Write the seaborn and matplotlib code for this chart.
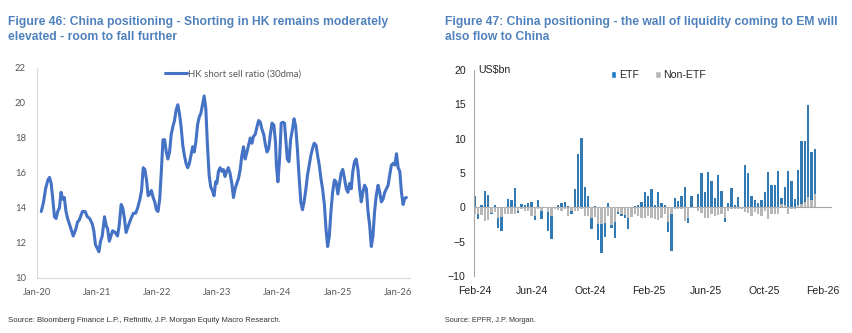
import numpy as np
import pandas as pd
import matplotlib
matplotlib.use("Agg")
import matplotlib.pyplot as plt
import matplotlib.dates as mdates
from matplotlib.patches import Patch
from matplotlib import font_manager
import seaborn as sns

# ---------------- data: Figure 46 ----------------
hk_dates = [
    "2020-01-27", "2020-02-10", "2020-02-22", "2020-03-07", "2020-03-17", "2020-03-27",
    "2020-04-06", "2020-04-16", "2020-04-26", "2020-05-06", "2020-05-16", "2020-05-26",
    "2020-06-05", "2020-06-15", "2020-06-25", "2020-07-05", "2020-07-15", "2020-07-25",
    "2020-08-08", "2020-08-24", "2020-09-03", "2020-09-13", "2020-10-03", "2020-10-19",
    "2020-11-02", "2020-11-16", "2020-12-01", "2020-12-11", "2020-12-21", "2021-01-01",
    "2021-01-11", "2021-01-21", "2021-01-31", "2021-02-14", "2021-02-24", "2021-03-05",
    "2021-03-15", "2021-03-25", "2021-04-04", "2021-04-20", "2021-05-04", "2021-05-14",
    "2021-05-26", "2021-06-05", "2021-06-15", "2021-06-25", "2021-07-09", "2021-07-25",
    "2021-08-08", "2021-08-22", "2021-09-03", "2021-09-17", "2021-09-27", "2021-10-07",
    "2021-10-17", "2021-10-27", "2021-11-06", "2021-11-16", "2021-11-26", "2021-12-06",
    "2021-12-16", "2021-12-26", "2022-01-05", "2022-01-15", "2022-01-25", "2022-02-04",
    "2022-02-14", "2022-02-24", "2022-03-06", "2022-03-16", "2022-03-26", "2022-04-05",
    "2022-04-15", "2022-04-25", "2022-05-05", "2022-05-15", "2022-05-25", "2022-06-04",
    "2022-06-14", "2022-06-24", "2022-07-04", "2022-07-14", "2022-07-24", "2022-08-03",
    "2022-08-13", "2022-08-23", "2022-09-02", "2022-09-12", "2022-09-22", "2022-10-02",
    "2022-10-12", "2022-10-22", "2022-11-01", "2022-11-11", "2022-11-21", "2022-12-01",
    "2022-12-11", "2022-12-21", "2022-12-28", "2023-01-07", "2023-01-17", "2023-01-27",
    "2023-02-06", "2023-02-16", "2023-02-26", "2023-03-08", "2023-03-18", "2023-03-29",
    "2023-04-08", "2023-04-18", "2023-04-28", "2023-05-09", "2023-05-19", "2023-05-29",
    "2023-06-08", "2023-06-18", "2023-06-29", "2023-07-09", "2023-07-19", "2023-07-29",
    "2023-08-08", "2023-08-18", "2023-08-29", "2023-09-08", "2023-09-18", "2023-09-28",
    "2023-10-09", "2023-10-19", "2023-10-29", "2023-11-08", "2023-11-18", "2023-11-28",
    "2023-12-09", "2023-12-19", "2023-12-25", "2024-01-03", "2024-01-13", "2024-01-23",
    "2024-02-02", "2024-02-12", "2024-02-21", "2024-02-29", "2024-03-10", "2024-03-20",
    "2024-03-31", "2024-04-10", "2024-04-20", "2024-04-30", "2024-05-11", "2024-05-21",
    "2024-05-31", "2024-06-10", "2024-06-21", "2024-07-01", "2024-07-11", "2024-07-21",
    "2024-07-31", "2024-08-10", "2024-08-21", "2024-08-31", "2024-09-10", "2024-09-20",
    "2024-09-30", "2024-10-11", "2024-10-21", "2024-10-31", "2024-11-10", "2024-11-20",
    "2024-11-30", "2024-12-11", "2024-12-21", "2025-01-01", "2025-01-11", "2025-01-21",
    "2025-01-31", "2025-02-10", "2025-02-21", "2025-03-03", "2025-03-13", "2025-03-23",
    "2025-04-02", "2025-04-12", "2025-04-22", "2025-05-03", "2025-05-13", "2025-05-23",
    "2025-06-02", "2025-06-12", "2025-06-23", "2025-07-03", "2025-07-13", "2025-07-23",
    "2025-08-02", "2025-08-12", "2025-08-22", "2025-09-02", "2025-09-12", "2025-09-22",
    "2025-10-02", "2025-10-13", "2025-10-23", "2025-11-02", "2025-11-12", "2025-11-22",
    "2025-12-03", "2025-12-13", "2025-12-23", "2026-01-02", "2026-01-12", "2026-01-22",
    "2026-02-01", "2026-02-11", "2026-02-21",
]
hk_ratio = [
    13.8, 14.35, 15.1, 15.6, 15.75, 15.4,
    14.5, 13.5, 13.4, 13.8, 14.0, 14.9,
    14.5, 14.6, 13.8, 13.4, 13.1, 12.8,
    12.4, 12.8, 13.2, 13.3, 13.8, 13.8,
    13.5, 13.4, 13.1, 12.7, 11.9, 11.7,
    11.5, 12.1, 12.4, 13.5, 13.0, 12.8,
    12.1, 12.4, 12.7, 12.6, 12.4, 13.0,
    14.2, 14.0, 13.4, 12.6, 13.0, 13.4,
    13.7, 13.7, 14.0, 14.5, 15.0, 16.3,
    16.2, 15.6, 14.7, 14.8, 15.0, 14.6,
    14.35, 13.9, 13.8, 14.5, 16.1, 17.9,
    17.9, 17.2, 16.8, 17.2, 18.2, 18.65,
    19.0, 19.6, 19.9, 19.4, 18.65, 17.6,
    17.0, 16.55, 16.3, 16.55, 17.0, 17.5,
    17.2, 17.8, 18.75, 19.2, 19.4, 19.9,
    20.4, 19.7, 17.6, 15.9, 15.2, 15.0,
    14.7, 15.5, 15.4, 16.1, 16.3, 16.1,
    16.2, 15.8, 16.1, 16.3, 16.0, 15.4,
    14.6, 15.1, 15.4, 15.7, 16.2, 17.0,
    17.5, 16.8, 17.2, 17.6, 18.0, 17.7,
    18.1, 18.2, 18.65, 19.0, 18.9, 18.5,
    18.2, 17.6, 17.2, 17.4, 18.2, 18.85,
    18.75, 17.8, 16.4, 15.5, 16.8, 18.85,
    18.9, 18.85, 17.8, 16.8, 16.65, 17.9,
    18.5, 19.1, 18.65, 17.4, 15.7, 14.35,
    13.9, 14.35, 15.1, 15.9, 16.45, 17.0,
    17.4, 17.7, 17.6, 17.0, 16.45, 15.7,
    15.1, 14.2, 12.8, 11.8, 12.4, 13.8,
    14.9, 15.6, 15.5, 14.8, 15.4, 16.0,
    16.2, 15.7, 15.1, 14.9, 15.4, 15.1,
    16.1, 16.65, 16.8, 16.2, 15.1, 14.35,
    14.9, 15.3, 15.1, 13.8, 13.0, 11.8,
    12.4, 13.8, 14.7, 15.3, 14.9, 14.35,
    14.5, 14.9, 15.1, 15.3, 15.9, 16.45,
    16.55, 16.45, 17.1, 16.3, 16.1, 14.9,
    14.2, 14.55, 14.6,
]
hk_label = "HK short sell ratio (30dma)"
hk_yticks = [10, 12, 14, 16, 18, 20, 22]

# ---------------- data: Figure 47 ----------------
flow_first_week = "2024-02-02"
etf_flows = [
    1.6, -0.7, 0.4, 2.4, 1.8, -0.2, 0.4, -1.4, -2.0, 0.1,
    1.2, 1.1, 2.8, -0.3, 0.5, 0.3, 0.6, 0.8, -0.6, 1.0,
    -1.1, 0.1, -2.8, -3.3, 0.1, 0.4, 0.6, 0.8, 0.2, -0.4,
    2.7, 7.7, 10.1, 2.9, 1.7, -1.5, 0.2, -2.4, -4.2, -2.0,
    0.7, -0.4, -2.3, -0.2, -0.3, -0.5, -1.6, 0.0, 0.2, 0.3,
    0.8, 2.2, 1.6, 2.6, 0.3, 2.2, 0.6, 0.4, -1.5, -5.4,
    1.4, 0.9, 1.6, 2.9, -0.8, 1.6, 0.1, 1.9, 5.0, 2.2,
    5.2, 3.9, 1.4, 4.7, 2.4, -0.7, 0.6, 2.8, 0.3, 1.5,
    0.1, 6.1, 5.0, 1.7, 1.0, 0.7, 1.1, 2.3, 5.1, 3.3,
    3.3, 5.3, 0.9, 2.6, 5.3, 3.8, 1.2, 5.2, 9.2, 8.8,
    13.4, 7.0, 6.5,
]
non_etf_flows = [
    -0.9, -1.0, -1.1, -2.0, -1.9, -0.8, -0.7, -1.6, -1.4, -0.9,
    -0.9, -0.9, -1.0, -0.5, -0.3, -0.6, -0.6, -1.2, -1.2, -0.2,
    -0.6, -0.1, -0.7, -1.3, -0.3, -0.4, -0.5, -0.3, -1.3, -0.5,
    -0.5, -0.5, -0.3, -1.2, -1.3, -1.6, -1.4, -2.4, -2.4, -2.3,
    -1.2, -2.6, -2.2, -0.7, -0.9, -1.1, -1.6, -1.4, -1.0, -1.2,
    -1.5, -1.5, -1.2, -1.5, -1.7, -1.8, -1.5, -1.0, -2.1, -1.0,
    -0.2, -0.3, -0.3, -2.0, -1.5, -0.1, -0.1, -0.5, -0.8, -1.5,
    -1.6, -1.0, -1.2, -1.1, -1.0, -1.5, -0.6, -0.3, -0.2, -0.2,
    -0.3, -0.7, -0.8, -1.2, -0.7, -1.0, -1.3, -0.5, -1.7, -1.0,
    -1.0, -1.0, 0.5, 0.4, -1.0, -0.2, -0.3, 0.3, 0.5, 0.8,
    1.5, 1.0, 2.0,
]
flow_series = ["ETF", "Non-ETF"]
flow_yticks = [-10, -5, 0, 5, 10, 15, 20]
flow_xticks = ["2024-02-01", "2024-06-01", "2024-10-01", "2025-02-01",
               "2025-06-01", "2025-10-01", "2026-02-01"]

titles = [
    "Figure 46: China positioning - Shorting in HK remains moderately\nelevated - room to fall further",
    "Figure 47: China positioning - the wall of liquidity coming to EM will\nalso flow to China",
]
sources = [
    "Source: Bloomberg Finance L.P., Refinitiv, J.P. Morgan Equity Macro Research.",
    "Source: EPFR, J.P. Morgan.",
]

# ---------------- style ----------------
sns.set_style("white")
installed = {f.name for f in font_manager.fontManager.ttflist}
narrow_ok = "Liberation Sans Narrow" in installed
narrow = ["Liberation Sans Narrow", "Liberation Sans", "DejaVu Sans"] if narrow_ok else ["Liberation Sans", "DejaVu Sans"]
plt.rcParams["font.family"] = ["Liberation Sans", "DejaVu Sans"]
calib = ["Lato", "Liberation Sans", "DejaVu Sans"]

TITLE_C = "#4F81BD"
LINE_C = "#4472C4"
ETF_C = "#1C7CC9"
NON_C = "#B7B7B7"

W, H = 852, 333
fig = plt.figure(figsize=(W / 100, H / 100), dpi=100)
renderer = fig.canvas.get_renderer()

def fx(px):
    return px / W

def fy(py):
    return 1 - py / H

def fit_width(txt, target_px):
    # scale font size so that the widest line spans target_px
    w = txt.get_window_extent(renderer=renderer).width
    txt.set_fontsize(txt.get_fontsize() * target_px / w)

t1 = fig.text(fx(8), fy(16), titles[0], color=TITLE_C, fontsize=9, fontweight="bold",
              family=narrow, va="top", ha="left", linespacing=1.35)
t2 = fig.text(fx(445), fy(16), titles[1], color=TITLE_C, fontsize=9, fontweight="bold",
              family=narrow, va="top", ha="left", linespacing=1.35)
s1 = fig.text(fx(8), fy(320), sources[0], color="#333333", fontsize=6, family=narrow,
              va="center", ha="left")
s2 = fig.text(fx(445), fy(320), sources[1], color="#333333", fontsize=6, family=narrow,
              va="center", ha="left")
fit_width(t1, 376)
fit_width(t2, 389)
fit_width(s1, 277)
fit_width(s2, 92)

# ---------------- left chart ----------------
ax1 = fig.add_axes([fx(37), fy(278), fx(410) - fx(37), fy(68) - fy(278)])
hk = pd.DataFrame({"date": pd.to_datetime(hk_dates), "ratio": hk_ratio})
sns.lineplot(data=hk, x="date", y="ratio", ax=ax1, color=LINE_C, linewidth=2.2,
             label=hk_label)
ax1.set_ylim(10, 22)
ax1.set_yticks(hk_yticks)
ax1.set_xlim(pd.Timestamp("2020-01-01"), pd.Timestamp("2026-03-15"))
ax1.xaxis.set_major_locator(mdates.YearLocator())
ax1.xaxis.set_major_formatter(mdates.DateFormatter("%b-%y"))
ax1.set_xlabel("")
ax1.set_ylabel("")
for s in ["top", "right"]:
    ax1.spines[s].set_visible(False)
for s in ["left", "bottom"]:
    ax1.spines[s].set_color("#D9D9D9")
    ax1.spines[s].set_linewidth(0.8)
ax1.tick_params(axis="y", length=0, pad=8, labelsize=6.8, labelcolor="#595959")
ax1.tick_params(axis="x", length=0, pad=7, labelsize=6.8, labelcolor="#595959")
for lab in ax1.get_xticklabels() + ax1.get_yticklabels():
    lab.set_family(calib)
leg1 = ax1.legend(loc="upper center", bbox_to_anchor=(0.525, 1.035), frameon=False,
                  handlelength=2.3, handletextpad=0.15, prop={"family": calib, "size": 6.9})
for t in leg1.get_texts():
    t.set_color("#595959")

# ---------------- right chart ----------------
ax2 = fig.add_axes([fx(474), fy(276), fx(832) - fx(474), fy(70) - fy(276)])
weeks = pd.date_range(flow_first_week, periods=len(etf_flows), freq="7D")
etf = np.array(etf_flows)
non = np.array(non_etf_flows)
etf_bottom = np.where(np.sign(etf) == np.sign(non), non, 0.0)
flows = pd.DataFrame({"week": weeks, "ETF": etf, "Non-ETF": non})

sns.barplot(data=flows, x="week", y="Non-ETF", native_scale=True, color=NON_C,
            width=0.7, errorbar=None, ax=ax2, linewidth=0)
sns.barplot(data=flows, x="week", y="ETF", native_scale=True, color=ETF_C,
            width=0.7, errorbar=None, ax=ax2, linewidth=0, bottom=etf_bottom)
ax2.axhline(0, color="#A6A6A6", linewidth=0.8, zorder=0.5)
ax2.set_ylim(-10, 20)
ax2.set_yticks(flow_yticks)
ax2.set_xlim(pd.Timestamp("2024-01-31"), pd.Timestamp("2026-02-21"))
ax2.set_xticks(pd.to_datetime(flow_xticks))
ax2.xaxis.set_major_formatter(mdates.DateFormatter("%b-%y"))
ax2.set_xlabel("")
ax2.set_ylabel("")
for s in ["top", "right", "bottom"]:
    ax2.spines[s].set_visible(False)
ax2.spines["left"].set_color("#A6A6A6")
ax2.spines["left"].set_linewidth(0.8)
ax2.tick_params(axis="y", length=3, width=0.8, color="#A6A6A6", pad=3,
                labelsize=7.6, labelcolor="#222222")
ax2.tick_params(axis="x", length=0, pad=7, labelsize=7.6, labelcolor="#222222")
ax2.text(0.012, 20, "US$bn", transform=ax2.get_yaxis_transform(), fontsize=7.6,
         color="#222222", va="center", ha="left")
handles = [Patch(facecolor=ETF_C, label=flow_series[0]),
           Patch(facecolor=NON_C, label=flow_series[1])]
ax2.legend(handles=handles, loc="upper left", bbox_to_anchor=(0.355, 1.045), ncol=2,
           frameon=False, handlelength=0.55, handleheight=0.55, handletextpad=0.25,
           columnspacing=1.5, prop={"size": 7.6})

fig.savefig("out.png", dpi=100)
